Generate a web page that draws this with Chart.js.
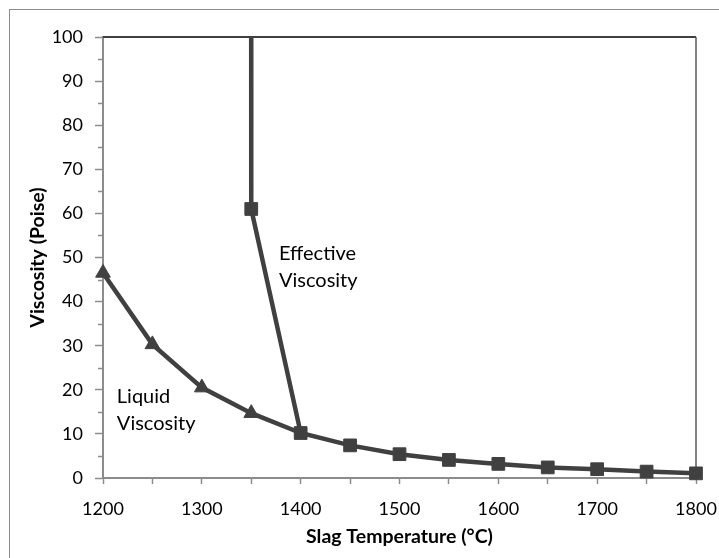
<!DOCTYPE html>
<html>
<head>
<meta charset="utf-8">
<script src="https://cdn.jsdelivr.net/npm/chart.js@4.4.0/dist/chart.umd.min.js"></script>
<style>
  html, body { margin: 0; padding: 0; background: #ffffff; }
  #wrap { width: 719px; height: 558px; position: relative; }
</style>
</head>
<body>
<div id="wrap"><canvas id="c" width="719" height="558"></canvas></div>
<script>
// ---- Data ----
const liquidTemps = [1200, 1250, 1300, 1350, 1400];
const liquidVisc  = [46.5, 30.3, 20.5, 14.7, 10.2];

const effectiveTemps = [1349.8, 1350, 1400, 1450, 1500, 1550, 1600, 1650, 1700, 1750, 1800];
const effectiveVisc  = [200, 61.0, 10.2, 7.4, 5.4, 4.1, 3.2, 2.4, 2.0, 1.45, 1.05];

const xTickLabels = [1200, 1300, 1400, 1500, 1600, 1700, 1800];
const yTickLabels = [0, 10, 20, 30, 40, 50, 60, 70, 80, 90, 100];

const annotations = [
  { lines: ['Effective', 'Viscosity'], x: 1378, y: 49.4 },
  { lines: ['Liquid', 'Viscosity'], x: 1214, y: 17.0 }
];

const LINE = '#404040';
const AXIS = '#8c8c8c';
const FONT = 'Lato, "Open Sans", sans-serif';

const liquidData = liquidTemps.map((t, i) => ({ x: t, y: liquidVisc[i] }));
const effectiveData = effectiveTemps.map((t, i) => ({ x: t, y: effectiveVisc[i] }));

const decorPlugin = {
  id: 'decor',
  beforeDatasetsDraw(chart) {
    const { ctx, chartArea: a, scales } = chart;
    ctx.save();
    // outer border
    ctx.strokeStyle = '#8c8c8c';
    ctx.lineWidth = 1;
    ctx.strokeRect(9.5, 9.5, 760, 600);
    // minor y ticks
    const ys = scales.y;
    ctx.strokeStyle = AXIS;
    ctx.lineWidth = 1.5;
    for (let v = 5; v < 100; v += 10) {
      const py = Math.round(ys.getPixelForValue(v)) + 0.5;
      ctx.beginPath();
      ctx.moveTo(a.left - 5, py);
      ctx.lineTo(a.left, py);
      ctx.stroke();
    }
    // plot-area top & right border
    ctx.strokeStyle = LINE;
    ctx.lineWidth = 2;
    ctx.beginPath();
    ctx.moveTo(a.left, a.top);
    ctx.lineTo(a.right, a.top);
    ctx.stroke();
    ctx.strokeStyle = '#5a5a5a';
    ctx.lineWidth = 1.5;
    ctx.beginPath();
    ctx.moveTo(a.right, a.top);
    ctx.lineTo(a.right, a.bottom);
    ctx.stroke();
    ctx.restore();
  },
  afterDatasetsDraw(chart) {
    const { ctx, scales } = chart;
    ctx.save();
    ctx.fillStyle = '#000000';
    ctx.font = '20px ' + FONT;
    ctx.textAlign = 'left';
    ctx.textBaseline = 'alphabetic';
    annotations.forEach(an => {
      const px = scales.x.getPixelForValue(an.x);
      const py = scales.y.getPixelForValue(an.y);
      an.lines.forEach((ln, i) => ctx.fillText(ln, px, py + i * 27));
    });
    ctx.restore();
  }
};

new Chart(document.getElementById('c'), {
  type: 'line',
  data: {
    datasets: [
      {
        label: 'Liquid Viscosity',
        data: liquidData,
        borderColor: LINE,
        backgroundColor: LINE,
        borderWidth: 4.5,
        pointStyle: 'triangle',
        pointRadius: [8.5, 8.5, 8.5, 8.5, 0],
        pointBorderWidth: 1,
        pointBackgroundColor: LINE,
        pointBorderColor: LINE,
        tension: 0,
        clip: false
      },
      {
        label: 'Effective Viscosity',
        data: effectiveData,
        borderColor: LINE,
        backgroundColor: LINE,
        borderWidth: 4.5,
        pointStyle: 'rect',
        pointRadius: effectiveTemps.map((t, i) => i === 0 ? 0 : 9),
        pointBorderWidth: 1,
        pointBackgroundColor: LINE,
        pointBorderColor: LINE,
        tension: 0,
        clip: { left: 15, right: 15, top: 0, bottom: 15 }
      }
    ]
  },
  options: {
    responsive: false,
    animation: false,
    events: [],
    layout: { padding: { left: 10, right: 23, top: 37, bottom: 0 } },
    plugins: { legend: { display: false }, tooltip: { enabled: false } },
    scales: {
      x: {
        type: 'linear',
        min: 1200, max: 1800,
        afterFit(s) { s.height = 80; s.paddingLeft = 0; s.paddingRight = 0; },
        border: { display: true, color: AXIS, width: 2 },
        grid: { drawOnChartArea: false, drawTicks: true, tickLength: 6, color: AXIS, tickWidth: 1.5 },
        ticks: {
          stepSize: 50,
          padding: 14,
          color: '#000000',
          font: { family: FONT, size: 18 },
          maxRotation: 0,
          autoSkip: false,
          callback: v => xTickLabels.includes(v) ? String(v) : ''
        },
        title: {
          display: true,
          text: 'Slag Temperature (°C)',
          color: '#000000',
          font: { family: FONT, size: 19.5, weight: 'bold' },
          padding: { top: 0, bottom: 10 }
        }
      },
      y: {
        type: 'linear',
        min: 0, max: 100,
        afterFit(s) { s.width = 93; s.paddingTop = 0; s.paddingBottom = 0; },
        border: { display: true, color: AXIS, width: 2 },
        grid: { drawOnChartArea: false, drawTicks: true, tickLength: 8, color: AXIS, tickWidth: 1.5 },
        ticks: {
          stepSize: 10,
          padding: 12,
          color: '#000000',
          font: { family: FONT, size: 18 },
          callback: v => yTickLabels.includes(v) ? String(v) : ''
        },
        title: {
          display: true,
          text: 'Viscosity (Poise)',
          color: '#000000',
          font: { family: FONT, size: 19.5, weight: 'bold' },
          padding: { top: 16, bottom: 0 }
        }
      }
    }
  },
  plugins: [decorPlugin]
});
</script>
</body>
</html>
